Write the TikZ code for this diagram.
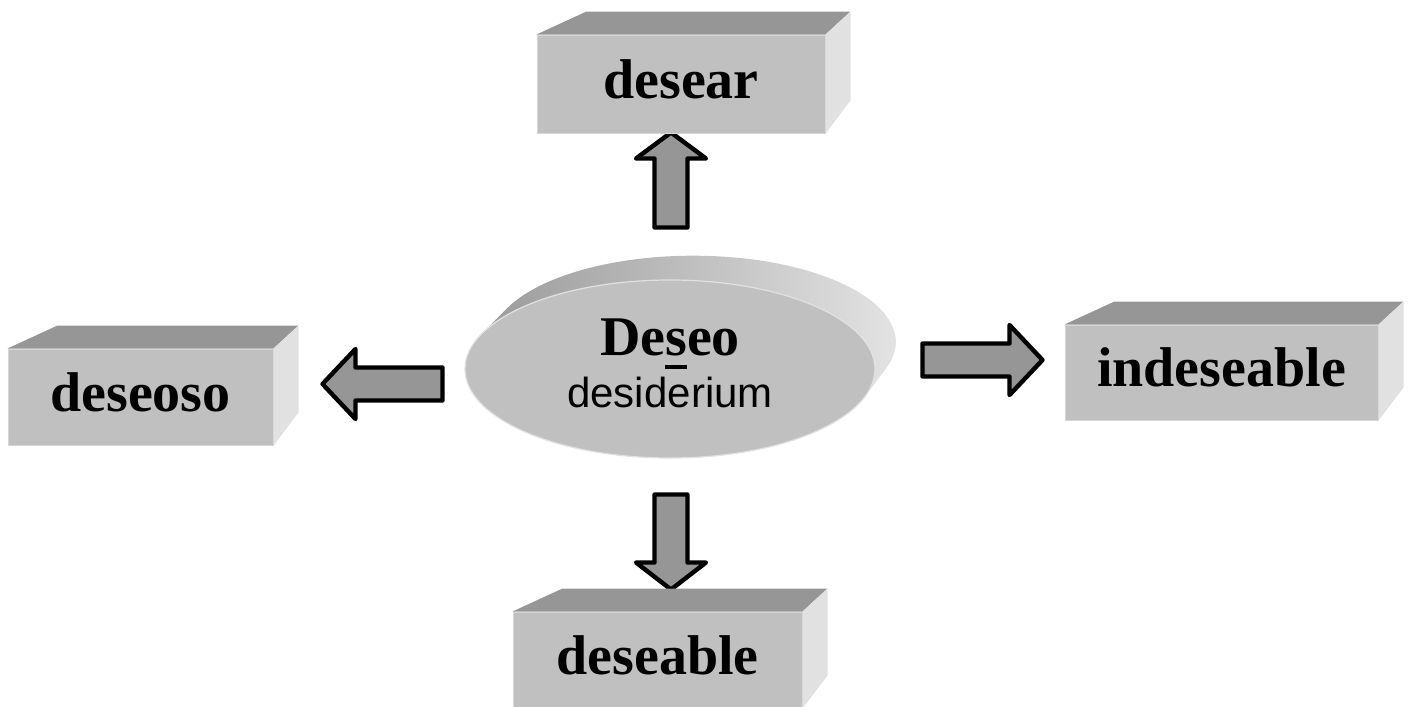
\documentclass[tikz,border=0pt]{standalone}
\usepackage{fontspec}
\setmainfont{Liberation Serif}
\setsansfont{Liberation Sans}
\usetikzlibrary{shapes,calc,positioning}

\definecolor{slabfront}{HTML}{C0C0C0}
\definecolor{slabtop}{HTML}{969696}
\definecolor{slabside}{HTML}{E1E1E1}
\definecolor{slabedge}{HTML}{D6D6D6}
\definecolor{arrowgray}{HTML}{969696}

\tikzset{
  slab/.style={rectangle, fill=slabfront, draw=slabedge, line width=0.5pt, inner sep=0pt,
    minimum height=48pt, text depth=5pt, font=\fontsize{28}{32}\selectfont\bfseries},
  arrowbody/.style={draw=black, fill=arrowgray, line width=2.2pt, line join=round},
  pics/blockarrow/.style 2 args={code={
    \draw[arrowbody] (0,-16.5) -- ({#1-#2},-16.5) -- ({#1-#2},-35) -- (#1,0)
      -- ({#1-#2},35) -- ({#1-#2},16.5) -- (0,16.5) -- cycle;
  }}
}

% top and right faces of a box, drawn on its front node
\newcommand{\slabfaces}[1]{%
  \fill[slabtop] (#1.north west) -- ++(50,23) -- ($(#1.north east)+(25,23)$) -- (#1.north east) -- cycle;
  \fill[slabside] (#1.north east) -- ++(25,23) -- ($(#1.south east)+(25,33)$) -- (#1.south east) -- cycle;
}
\newcommand{\stressed}[1]{\setbox0\hbox{#1}\rlap{\rule[-6.8pt]{\wd0}{1.8pt}}#1}

\begin{document}
\begin{tikzpicture}[x=0.5pt,y=0.5pt]
    \useasboundingbox (0,0) rectangle (1410,-707);
    % disc seen from the front, swept back
    \begin{scope}
        \clip foreach \t in {0,0.1,...,1} {($(670,-369)!\t!(696,-339)$) ellipse [x radius={205-3*\t}, y radius={89-3*\t}]};
        \shade[left color=slabtop, middle color=slabtop!85!slabfront, right color=slabside!90!white] (455,-240) rectangle (905,-470);
    \end{scope}
    \node[ellipse, fill=slabfront, draw=slabside, line width=0.6pt, inner sep=0pt,
          minimum width=205pt, minimum height=89pt, align=center,
          font=\fontsize{21}{26}\selectfont] (deseo) at (670,-369)
        {{\fontsize{28}{32}\selectfont\bfseries De\stressed{s}eo}\\{\sffamily desiderium}\rule[-6pt]{0pt}{6pt}};

    \pic[rotate=90] at (671,-227.5) {blockarrow={95}{26}};
    \pic[rotate=-90] at (671,-494.5) {blockarrow={95}{27}};
    \pic[rotate=180] at (442.5,-384) {blockarrow={120}{33}};
    \pic at (922.5,-360) {blockarrow={120}{33}};

    \node[slab, minimum width=144pt, minimum height=49pt] (desear) at (681,-84) {desear};
    \slabfaces{desear}
    \node[slab, minimum width=132.5pt] (deseoso) at (140.5,-397) {deseoso};
    \slabfaces{deseoso}
    \node[slab, minimum width=156.5pt, minimum height=47.5pt] (indeseable) at (1221.5,-372.5) {indeseable};
    \slabfaces{indeseable}
    \node[slab, minimum width=144.5pt] (deseable) at (657.5,-660) {deseable};
    \slabfaces{deseable}
\end{tikzpicture}
\end{document}
